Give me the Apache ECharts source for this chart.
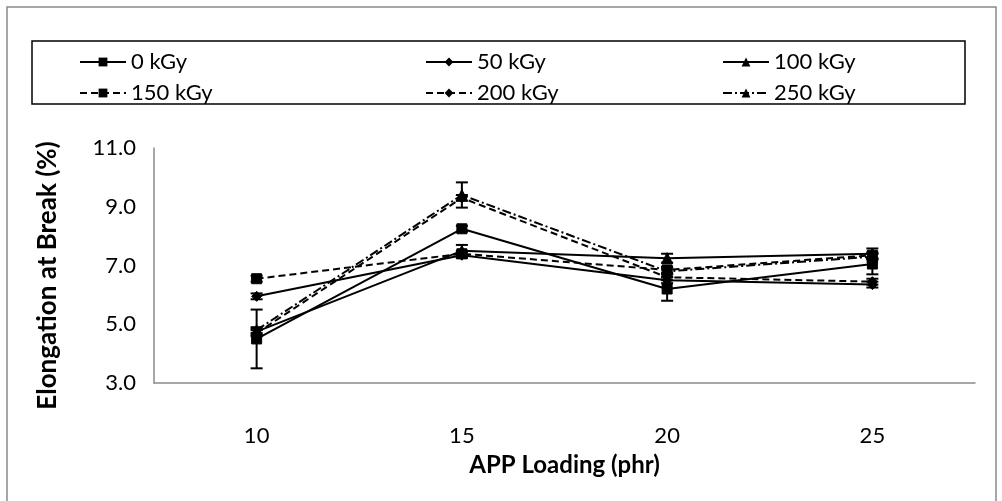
<!DOCTYPE html>
<html><head><meta charset="utf-8">
<script src="https://cdn.jsdelivr.net/npm/echarts@6/dist/echarts.min.js"></script>
<style>html,body{margin:0;padding:0;background:#fff}#c{width:1002px;height:501px}</style>
</head><body><div id="c"></div>
<script>
var categories = ['10', '15', '20', '25'];
var seriesNames = ['0 kGy', '50 kGy', '100 kGy', '150 kGy', '200 kGy', '250 kGy'];
var v0 = [4.5, 8.25, 6.2, 7.05];
var v50 = [5.95, 7.35, 6.5, 6.35];
var v100 = [4.75, 7.5, 7.25, 7.4];
var v150 = [6.55, 7.4, 6.85, 7.35];
var v200 = [4.7, 9.3, 6.6, 6.45];
var v250 = [4.8, 9.4, 6.8, 7.3];
var e0 = [1.0, 0.1, 0.4, 0.35];
var e50 = [0.1, 0.1, 0.1, 0.1];
var e100 = [0.1, 0.2, 0.15, 0.18];
var e150 = [0.1, 0.1, 0.1, 0.1];
var e200 = [0.1, 0.1, 0.1, 0.1];
var e250 = [0.1, 0.43, 0.1, 0.1];
var yTicks = [3, 5, 7, 9, 11];

var values = [v0, v50, v100, v150, v200, v250];
var errs = [e0, e50, e100, e150, e200, e250];
var symbols = ['rect', 'diamond', 'triangle', 'rect', 'diamond', 'triangle'];
var symSizes = [10, 10, 11, 10, 10, 11];
var lineTypes = ['solid', 'solid', 'solid', [7, 4], [7, 4], [9, 3, 2, 3]];
var FONT = 'Lato';

var series = [];
values.forEach(function (vals, i) {
  var ed = vals.map(function (v, j) { return [j, v - errs[i][j], v + errs[i][j]]; });
  series.push({
    type: 'custom', name: seriesNames[i] + ' err', data: ed, z: 1, silent: true,
    renderItem: function (params, api) {
      var x = api.value(0);
      var lo = api.coord([x, api.value(1)]);
      var hi = api.coord([x, api.value(2)]);
      var w = 6;
      var st = { stroke: '#000', lineWidth: 2 };
      return { type: 'group', children: [
        { type: 'line', shape: { x1: lo[0], y1: lo[1], x2: hi[0], y2: hi[1] }, style: st },
        { type: 'line', shape: { x1: lo[0] - w, y1: lo[1], x2: lo[0] + w, y2: lo[1] }, style: st },
        { type: 'line', shape: { x1: hi[0] - w, y1: hi[1], x2: hi[0] + w, y2: hi[1] }, style: st }
      ] };
    }
  });
  series.push({
    type: 'line', name: seriesNames[i], data: vals, z: 2,
    symbol: symbols[i], symbolSize: symSizes[i], showAllSymbol: true,
    lineStyle: { color: '#000', width: 2, type: lineTypes[i] },
    itemStyle: { color: '#000', borderColor: '#000' },
    emphasis: { disabled: true }
  });
});

var legendPos = [[74, 46], [420, 46], [717, 46], [74, 77], [420, 77], [717, 77]];
var legends = seriesNames.map(function (n, i) {
  return {
    data: [n], left: legendPos[i][0], top: legendPos[i][1],
    itemWidth: 46, itemHeight: 11, itemGap: 6,
    textStyle: { fontFamily: FONT, fontSize: 22, color: '#000' },
    selectedMode: false
  };
});

var option = {
  animation: false,
  backgroundColor: '#fff',
  legend: legends,
  graphic: [
    { type: 'rect', shape: { x: 7, y: 7, width: 989, height: 500 }, style: { fill: 'none', stroke: '#8a8a8a', lineWidth: 1.5 }, silent: true },
    { type: 'rect', shape: { x: 32, y: 41, width: 933, height: 63 }, style: { fill: 'none', stroke: '#000', lineWidth: 1.5 }, silent: true }
  ],
  grid: { left: 154, right: 27, top: 148, bottom: 118 },
  xAxis: {
    type: 'category', data: categories, boundaryGap: true,
    name: 'APP Loading (phr)', nameLocation: 'middle', nameGap: 70,
    nameTextStyle: { fontFamily: FONT, fontSize: 24, fontWeight: 'bold', color: '#000' },
    axisLine: { lineStyle: { color: '#8a8a8a', width: 1.5 } },
    axisTick: { show: false },
    axisLabel: { fontFamily: FONT, fontSize: 22, color: '#000', margin: 42 }
  },
  yAxis: {
    type: 'value', min: yTicks[0], max: yTicks[yTicks.length - 1], interval: 2,
    name: 'Elongation at Break (%)', nameLocation: 'middle', nameGap: 93,
    nameTextStyle: { fontFamily: FONT, fontSize: 26, fontWeight: 'bold', color: '#000', padding: [0, 20, 0, 0] },
    axisLine: { show: true, lineStyle: { color: '#8a8a8a', width: 1.5 } },
    axisTick: { show: false },
    splitLine: { show: false },
    axisLabel: { fontFamily: FONT, fontSize: 22, color: '#000', margin: 18,
      formatter: function (v) { return v.toFixed(1); } }
  },
  series: series
};
var chart = echarts.init(document.getElementById('c'), null, { renderer: 'canvas' });
chart.setOption(option);
</script></body></html>
